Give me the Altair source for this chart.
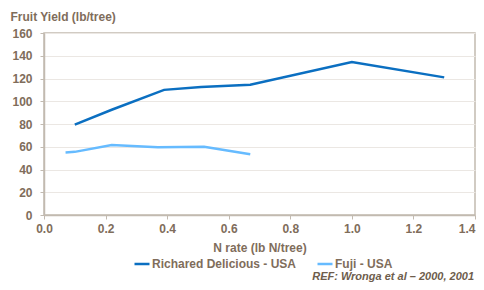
import altair as alt
import pandas as pd

rich_x = [0.10, 0.22, 0.39, 0.51, 0.67, 1.00, 1.30]
rich_y = [79.5, 92.5, 110.0, 112.5, 114.5, 134.5, 121.0]
fuji_x = [0.07, 0.10, 0.22, 0.37, 0.52, 0.67]
fuji_y = [55.0, 55.5, 61.5, 59.5, 60.0, 53.5]
series = ["Richared Delicious - USA", "Fuji - USA"]
colors = ["#0b6fc1", "#66bbff"]
x_ticks = [0.0, 0.2, 0.4, 0.6, 0.8, 1.0, 1.2, 1.4]
y_ticks = [0, 20, 40, 60, 80, 100, 120, 140, 160]
ref_text = ["REF: Wronga et al \u2013 2000, 2001"]

rows = []
for i, (x, y) in enumerate(zip(rich_x, rich_y)):
    rows.append({"x": x, "y": y, "s": series[0], "o": i})
for i, (x, y) in enumerate(zip(fuji_x, fuji_y)):
    rows.append({"x": x, "y": y, "s": series[1], "o": i})
df = pd.DataFrame(rows)
ref_df = pd.DataFrame({"t": ref_text})

TXT = "#7f6d5b"
BORDER = "#c2bab0"
FONT = "Liberation Sans"

lines = alt.Chart(df).mark_line(strokeWidth=2.5).encode(
    x=alt.X("x:Q", scale=alt.Scale(domain=[0, 1.4], nice=False),
            axis=alt.Axis(values=x_ticks, format=".1f", title="N rate (lb N/tree)",
                          grid=False, tickSize=4, labelPadding=4, labelFlush=False,
                          labelAlign={"condition": {"test": "datum.value >= 1.39", "value": "right"},
                                      "value": "center"},
                          titleY=36, titleBaseline="alphabetic")),
    y=alt.Y("y:Q", scale=alt.Scale(domain=[0, 160], nice=False),
            axis=alt.Axis(values=y_ticks, title="Fruit Yield (lb/tree)",
                          tickSize=4, labelPadding=8, labelFlush=False,
                          titleAngle=0, titleAlign="left", titleBaseline="alphabetic",
                          titleX=-34, titleY=-13)),
    color=alt.Color("s:N", scale=alt.Scale(domain=series, range=colors),
                    legend=alt.Legend(title=None, orient="none", legendX=89, legendY=222,
                                      direction="horizontal", symbolType="stroke",
                                      symbolSize=225, symbolStrokeWidth=2.5,
                                      labelOffset=1, columnPadding=15)),
    order="o:Q",
)

ref = alt.Chart(ref_df).mark_text(
    align="right", baseline="alphabetic", font=FONT, fontSize=11,
    fontStyle="italic", fontWeight="bold", color="#6e5d4c",
).encode(text="t:N", x=alt.value(430), y=alt.value(247))

chart = alt.layer(lines, ref).properties(
    width=431, height=182,
    autosize=alt.AutoSizeParams(type="none"),
    padding={"left": 36, "top": 25, "right": 1, "bottom": 67},
).configure_view(stroke=BORDER, strokeWidth=1.5).configure_axis(
    labelFont=FONT, titleFont=FONT, labelFontSize=12, titleFontSize=12,
    labelFontWeight="bold", titleFontWeight="bold", labelColor=TXT, titleColor=TXT,
    domainColor=BORDER, domainWidth=1.5, tickColor=BORDER, gridColor="#ebe7e3",
).configure_legend(
    labelFont=FONT, labelFontSize=12, labelFontWeight="bold", labelColor=TXT,
)

chart.save("out.html", embed_options={"renderer": "svg", "actions": False})
